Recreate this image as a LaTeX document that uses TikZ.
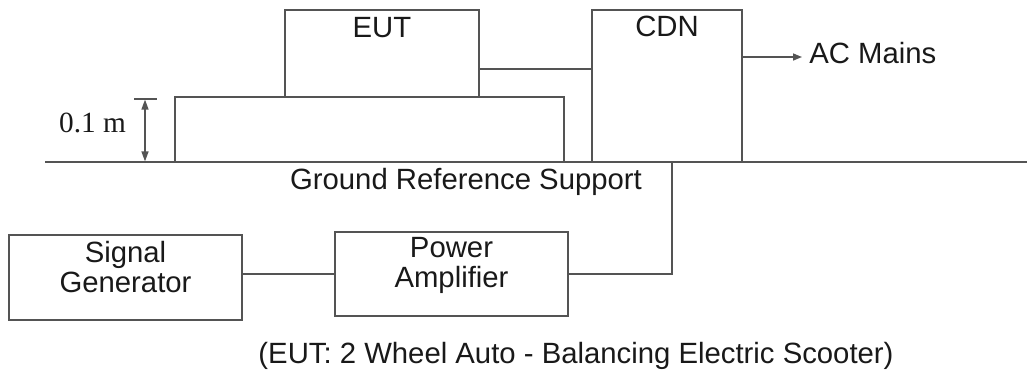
\documentclass[tikz,border=0pt]{standalone}
\usepackage{fontspec}
\setmainfont{Liberation Sans}
\newfontfamily\serifft{Liberation Serif}
\usetikzlibrary{arrows.meta}
\definecolor{linec}{gray}{0.33}
\definecolor{textc}{gray}{0.1}
\tikzset{
  box/.style={draw=linec, line width=0.75pt, rectangle, inner sep=0pt},
  wire/.style={draw=linec, line width=0.75pt},
  lbl/.style={text=textc, inner sep=0pt, font=\fontsize{14.65}{15}\selectfont},
  mlbl/.style={lbl, align=center},
}
\begin{document}
\begin{tikzpicture}[x=0.5pt, y=-0.5pt]
\useasboundingbox (0,0) rectangle (1027,372);
% boxes
\node[box, minimum width=97pt, minimum height=43.5pt] (eut) at (382,53.5) {};
\node[box, minimum width=75pt, minimum height=76pt] (cdn) at (667,86) {};
\node[box, minimum width=116.5pt, minimum height=42.5pt] (sg) at (125.5,277.5) {};
\node[box, minimum width=116.5pt, minimum height=42pt] (pa) at (451.5,274) {};
% labels
\node[lbl, anchor=base] (eutt) at (382,37) {EUT};
\node[lbl, anchor=base] (cdnt) at (667,36) {CDN};
\node[lbl, anchor=base west] (ac) at (809,63) {AC Mains};
\node[lbl, anchor=base] (grs) at (466,189) {Ground Reference Support};
\node[mlbl, anchor=base] (sgt) at (125.5,292) {Signal\\Generator};
\node[mlbl, anchor=base] (pat) at (451.5,287) {Power\\Amplifier};
\node[lbl, anchor=base] (cap) at (576,363) {(EUT: 2 Wheel Auto - Balancing Electric Scooter)};
\node[lbl, font=\serifft\fontsize{14.65}{15}\selectfont, anchor=base] (dim) at (92.5,132) {0.1 m};
% support table and ground
\draw[wire] (175,162) -- (175,97) -- (564,97) -- (564,162);
\coordinate (gl) at (45,162);
\coordinate (gr) at (1027,162);
\draw[wire] (gl) -- (gr);
% dimension
\coordinate (dtop) at (145,99);
\coordinate (dbot) at (145,162);
\draw[wire] (134,99) -- (157,99);
\draw[wire, {Triangle[length=5pt,width=3.5pt]}-{Triangle[length=5pt,width=3.5pt]}, shorten <=0.3pt, shorten >=0.3pt] (dtop) -- (dbot);
% connectors
\coordinate (eutp) at (eut.east |- 0,69);
\draw[wire] (eutp) -- (eutp -| cdn.west);
\coordinate (acs) at (cdn.east |- 0,57);
\coordinate (ace) at (802,57);
\draw[wire, -{Triangle[length=4.5pt,width=3.5pt]}] (acs) -- (ace);
\draw[wire] (pa.west) -- (pa.west -| sg.east);
\coordinate (cdnp) at (672,162);
\draw[wire] (pa.east) -| (cdnp);
\end{tikzpicture}
\end{document}
